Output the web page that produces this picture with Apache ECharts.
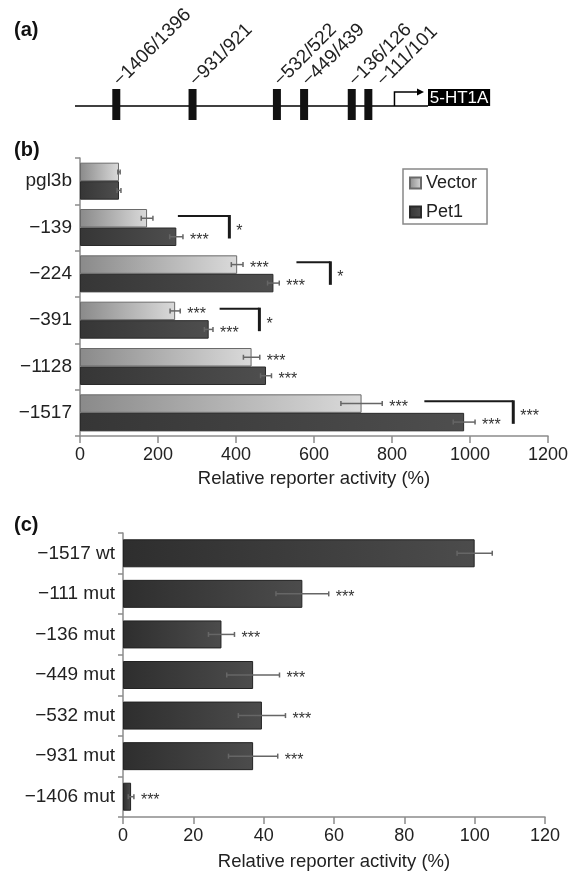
<!doctype html>
<html lang="en">
  <head>
    <meta charset="UTF-8" />
    <title>5-HT1A promoter reporter activity</title>
    <script src="https://cdn.jsdelivr.net/npm/echarts@6/dist/echarts.min.js"></script>
    <style>
      body { margin: 0; background: #fff; }
      #chart { width: 571px; height: 872px; }
    </style>
  </head>
  <body>
    <div id="chart"></div>
    <script>
      ///////////////////////////////////////////////////
      // Data
      ///////////////////////////////////////////////////

      // (a) promoter schematic, positions along the promoter line (0-100, not to scale)
      var sites = ['−1406/1396', '−931/921', '−532/522', '−449/439', '−136/126', '−111/101'];
      var sitePos = [11.7, 33.3, 57.2, 64.9, 78.4, 83.1];
      var tssPos = 90.5;
      var geneSpan = [100, 117.6];
      var geneName = '5-HT1A';

      // (b) deletion constructs
      var constructs = ['pgl3b', '−139', '−224', '−391', '−1128', '−1517'];
      var vectorMean = [100, 172, 403, 244, 440, 722];
      var vectorErr = [3, 15, 15, 13, 21, 53];
      var vectorSig = ['', '', '***', '***', '***', '***'];
      var pet1Mean = [100, 247, 496, 330, 477, 985];
      var pet1Err = [5, 17, 15, 11, 14, 28];
      var pet1Sig = ['', '***', '***', '***', '***', '***'];
      var bracketCat = ['−139', '−224', '−391', '−1517'];
      var bracketFrom = [251, 555, 358, 883];
      var bracketTo = [383, 642, 460, 1111];
      var bracketSig = ['*', '*', '*', '***'];
      var ticksB = [0, 200, 400, 600, 800, 1000, 1200];

      // (c) site mutants
      var mutants = ['−1517 wt', '−111 mut', '−136 mut', '−449 mut', '−532 mut', '−931 mut', '−1406 mut'];
      var mutMean = [100, 51, 28, 37, 39.5, 37, 2.3];
      var mutErr = [5, 7.5, 3.7, 7.5, 6.7, 7, 0.8];
      var mutSig = ['', '***', '***', '***', '***', '***', '***'];
      var ticksC = [0, 20, 40, 60, 80, 100, 120];

      ///////////////////////////////////////////////////
      // Chart
      ///////////////////////////////////////////////////
      var FONT = 'Liberation Sans, Arial, Helvetica, sans-serif';
      var AXIS = '#8c8c8c';
      var INK = '#222';
      var BAR_B = 18.5;
      var BAR_C = 28;

      var myChart = echarts.init(document.getElementById('chart'), null, { renderer: 'canvas' });

      function grad(c0, c1) {
        return new echarts.graphic.LinearGradient(0, 0, 1, 0, [
          { offset: 0, color: c0 },
          { offset: 1, color: c1 },
        ]);
      }

      function starText(x, y, txt) {
        return {
          type: 'text',
          style: { text: txt, x: x, y: y + 4, font: '16px ' + FONT, fill: '#333', align: 'left', verticalAlign: 'middle' },
        };
      }

      // error bar + significance, drawn on the bar centre (offset inside the category band)
      function errorBars(means, errs, sigs, offset) {
        return function (params, api) {
          var i = params.dataIndex;
          var yc = api.coord([0, i])[1] + offset;
          var lo = api.coord([means[i] - errs[i], i])[0];
          var hi = api.coord([means[i] + errs[i], i])[0];
          var ls = { stroke: '#666', lineWidth: 1.5 };
          var children = [
            { type: 'line', shape: { x1: lo, y1: yc, x2: hi, y2: yc }, style: ls },
            { type: 'line', shape: { x1: lo, y1: yc - 2.5, x2: lo, y2: yc + 2.5 }, style: ls },
            { type: 'line', shape: { x1: hi, y1: yc - 2.5, x2: hi, y2: yc + 2.5 }, style: ls },
          ];
          if (sigs[i]) children.push(starText(hi + 7, yc, sigs[i]));
          return { type: 'group', children: children };
        };
      }

      function axisX(grid, max, interval, gap) {
        return {
          gridIndex: grid,
          type: 'value',
          min: 0,
          max: max,
          interval: interval,
          splitLine: { show: false },
          axisLine: { show: true, lineStyle: { color: AXIS, width: 1.5 } },
          axisTick: { show: true, length: 7, lineStyle: { color: AXIS, width: 1.5 } },
          axisLabel: { fontSize: 18, color: INK, margin: 10, fontFamily: FONT, formatter: function (v) { return String(v); } },
          name: 'Relative reporter activity (%)',
          nameLocation: 'middle',
          nameGap: gap,
          nameTextStyle: { fontSize: 18.5, color: INK, fontFamily: FONT },
        };
      }

      function axisY(grid, cats) {
        return {
          gridIndex: grid,
          type: 'category',
          data: cats,
          inverse: true,
          axisLine: { show: true, lineStyle: { color: AXIS, width: 1.5 } },
          axisTick: { show: true, length: 5, lineStyle: { color: AXIS, width: 1.5 } },
          axisLabel: { fontSize: 19, color: INK, margin: 8, fontFamily: FONT },
        };
      }

      var option = {
        animation: false,
        textStyle: { fontFamily: FONT },
        graphic: [
          { type: 'text', left: 14, top: 20, style: { text: '(a)', font: 'bold 20px ' + FONT, fill: '#111' } },
          { type: 'text', left: 14, top: 140, style: { text: '(b)', font: 'bold 20px ' + FONT, fill: '#111' } },
          { type: 'text', left: 14, top: 515, style: { text: '(c)', font: 'bold 20px ' + FONT, fill: '#111' } },
        ],
        legend: {
          data: ['Vector', 'Pet1'],
          icon: 'rect',
          orient: 'vertical',
          left: 403,
          top: 169,
          padding: [4, 10, 2, 6],
          itemGap: 9,
          itemWidth: 11,
          itemHeight: 11,
          borderColor: '#888',
          borderWidth: 1.5,
          textStyle: { fontSize: 18, color: INK, fontFamily: FONT, lineHeight: 20 },
        },
        grid: [
          { left: 75, top: 89, width: 353, height: 31 },
          { left: 80, top: 158, width: 470, height: 278 },
          { left: 123, top: 533, width: 422, height: 284 },
        ],
        xAxis: [
          { gridIndex: 0, type: 'value', min: 0, max: 100, show: false },
          axisX(1, ticksB[ticksB.length - 1], ticksB[1] - ticksB[0], 33),
          axisX(2, ticksC[ticksC.length - 1], ticksC[1] - ticksC[0], 35),
        ],
        yAxis: [
          { gridIndex: 0, type: 'value', min: 0, max: 1, show: false },
          axisY(1, constructs),
          axisY(2, mutants),
        ],
        series: [
          // (a) backbone, TSS arrow and gene box
          {
            type: 'custom',
            xAxisIndex: 0,
            yAxisIndex: 0,
            clip: false,
            data: [[0]],
            renderItem: function (params, api) {
              var top = api.coord([0, 1])[1];
              var y0 = api.coord([0, 0.45])[1];
              var x0 = api.coord([0, 0])[0];
              var g0 = api.coord([geneSpan[0], 0])[0];
              var g1 = api.coord([geneSpan[1], 0])[0];
              var xt = api.coord([tssPos, 0])[0];
              var tip = g0 - 4;
              var ay = top + 3;
              return {
                type: 'group',
                children: [
                  { type: 'line', shape: { x1: x0, y1: y0, x2: g0, y2: y0 }, style: { stroke: '#000', lineWidth: 1.5 } },
                  { type: 'polyline', shape: { points: [[xt, y0], [xt, ay], [tip - 6, ay]] }, style: { stroke: '#000', lineWidth: 1.5, fill: null } },
                  { type: 'polygon', shape: { points: [[tip, ay], [tip - 7, ay - 3.5], [tip - 7, ay + 3.5]] }, style: { fill: '#000' } },
                  { type: 'rect', shape: { x: g0, y: top, width: g1 - g0, height: y0 - top }, style: { fill: '#000' } },
                  {
                    type: 'text',
                    style: { text: geneName, x: (g0 + g1) / 2, y: (top + y0) / 2 + 1, align: 'center', verticalAlign: 'middle', font: '17px ' + FONT, fill: '#fff' },
                  },
                ],
              };
            },
          },
          // (a) binding sites
          {
            type: 'custom',
            xAxisIndex: 0,
            yAxisIndex: 0,
            clip: false,
            data: sitePos.map(function (p) { return [p]; }),
            renderItem: function (params, api) {
              var i = params.dataIndex;
              var top = api.coord([0, 1])[1];
              var bot = api.coord([0, 0])[1];
              // label anchors, pushed apart when sites crowd together
              var anchor = -Infinity;
              for (var k = 0; k <= i; k++) {
                var r = api.coord([sitePos[k], 0])[0] + 4;
                anchor = Math.max(r + 3, anchor + 28);
              }
              var xc = api.coord([sitePos[i], 0])[0];
              return {
                type: 'group',
                children: [
                  { type: 'rect', shape: { x: xc - 4, y: top, width: 8, height: bot - top }, style: { fill: '#111' } },
                  {
                    type: 'text',
                    x: anchor,
                    y: top + 1,
                    rotation: Math.PI / 4,
                    style: { text: sites[i], x: 0, y: 0, align: 'left', verticalAlign: 'bottom', font: '19px ' + FONT, fill: INK },
                  },
                ],
              };
            },
          },
          // (b) bars
          {
            name: 'Vector',
            type: 'bar',
            xAxisIndex: 1,
            yAxisIndex: 1,
            barWidth: BAR_B,
            barGap: '0%',
            data: vectorMean,
            itemStyle: { color: grad('#8a8a8a', '#dadada'), borderColor: '#6a6a6a', borderWidth: 1 },
          },
          {
            name: 'Pet1',
            type: 'bar',
            xAxisIndex: 1,
            yAxisIndex: 1,
            barWidth: BAR_B,
            barGap: '0%',
            data: pet1Mean,
            itemStyle: { color: grad('#363636', '#4e4e4e'), borderColor: '#2a2a2a', borderWidth: 1 },
          },
          {
            type: 'custom',
            xAxisIndex: 1,
            yAxisIndex: 1,
            z: 5,
            clip: false,
            data: vectorMean.map(function (v, i) { return [v, i]; }),
            renderItem: errorBars(vectorMean, vectorErr, vectorSig, -BAR_B / 2),
          },
          {
            type: 'custom',
            xAxisIndex: 1,
            yAxisIndex: 1,
            z: 5,
            clip: false,
            data: pet1Mean.map(function (v, i) { return [v, i]; }),
            renderItem: errorBars(pet1Mean, pet1Err, pet1Sig, BAR_B / 2),
          },
          // (b) Vector vs Pet1 comparison brackets
          {
            type: 'custom',
            xAxisIndex: 1,
            yAxisIndex: 1,
            z: 5,
            clip: false,
            data: bracketCat.map(function (c, i) { return [bracketTo[i], constructs.indexOf(c)]; }),
            renderItem: function (params, api) {
              var i = params.dataIndex;
              var cat = constructs.indexOf(bracketCat[i]);
              var yc = api.coord([0, cat])[1];
              var x1 = api.coord([bracketFrom[i], cat])[0];
              var x2 = api.coord([bracketTo[i], cat])[0];
              var yt = yc - 11.5;
              var yb = yc + 11;
              return {
                type: 'group',
                children: [
                  { type: 'line', shape: { x1: x1, y1: yt, x2: x2, y2: yt }, style: { stroke: '#1a1a1a', lineWidth: 2 } },
                  { type: 'line', shape: { x1: x2, y1: yt - 1, x2: x2, y2: yb }, style: { stroke: '#1a1a1a', lineWidth: 3 } },
                  starText(x2 + 7, yc, bracketSig[i]),
                ],
              };
            },
          },
          // (c) bars
          {
            name: 'Mutants',
            type: 'bar',
            xAxisIndex: 2,
            yAxisIndex: 2,
            barWidth: BAR_C,
            data: mutMean,
            itemStyle: { color: grad('#2e2e2e', '#4c4c4c'), borderColor: '#222', borderWidth: 1 },
          },
          {
            type: 'custom',
            xAxisIndex: 2,
            yAxisIndex: 2,
            z: 5,
            clip: false,
            data: mutMean.map(function (v, i) { return [v, i]; }),
            renderItem: errorBars(mutMean, mutErr, mutSig, 0),
          },
        ],
      };

      myChart.setOption(option);
    </script>
  </body>
</html>
